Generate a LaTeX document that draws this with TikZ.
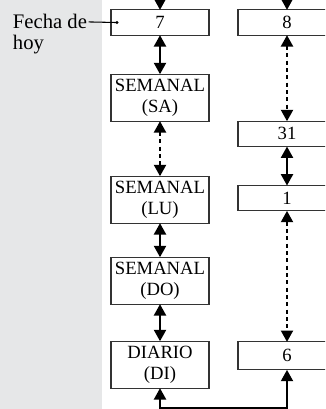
\documentclass[tikz,border=0pt]{standalone}
\usepackage{fontspec}
\setmainfont{Liberation Serif}
\usetikzlibrary{positioning, arrows.meta}

\definecolor{panelgray}{HTML}{E6E7E8}
\definecolor{boxline}{HTML}{333333}

\begin{document}
\begin{tikzpicture}[
        field/.style     = {rectangle, draw=boxline, line width=0.8pt, minimum width=73.5pt,
                            minimum height=19pt, inner sep=0pt, outer sep=0pt, align=center,
                            font=\fontsize{14}{15.75}\selectfont},
        tallfield/.style = {field, minimum height=35.25pt},
        lbl/.style       = {inner sep=0pt, font=\fontsize{15.5}{16}\selectfont},
        link/.style      = {draw, line width=1.5pt, {Triangle[width=9pt,length=8.5pt]}-{Triangle[width=9pt,length=8.5pt]}},
        skip/.style      = {link, dash pattern=on 3pt off 2.5pt},
        feed/.style      = {draw, line width=1.5pt, -{Triangle[width=9pt,length=8.5pt]}}
    ]
        \useasboundingbox (0,0) rectangle (243.75pt,-306.75pt);
        \clip (0,0) rectangle (243.75pt,-306.75pt);
        \fill [panelgray] (0,0) rectangle (76.5pt,-306.75pt);

        % columna izquierda
        \node [field] (hoy7) at (120pt,-16.9pt) {7};
        \node [tallfield, below=29.25pt of hoy7] (sa) {SEMANAL\\(SA)};
        \node [tallfield, below=41.25pt of sa]   (lu) {SEMANAL\\(LU)};
        \node [tallfield, below=25.5pt of lu]    (do) {SEMANAL\\(DO)};
        \node [tallfield, below=27.75pt of do]   (di) {DIARIO\\(DI)};

        % columna derecha
        \node [field] (d8) at (215.25pt,-16.9pt) {8};
        \node [field, below=64.5pt of d8]  (d31) {31};
        \node [field, below=29.25pt of d31] (d1) {1};
        \node [field, minimum height=21pt, below=98.25pt of d1] (d6) {6};

        % etiqueta
        \node [lbl, anchor=base west] (fecha) at (9.5pt,-21.75pt) {Fecha de};
        \node [lbl, anchor=base west] (hoy) at ([yshift=-15.75pt]fecha.base west) {hoy};
        \coordinate [right=4.5pt of hoy7.west] (dot);
        \fill (dot) circle (1.2pt);
        \draw [line width=0.8pt] ([xshift=1pt]fecha.east) -- (dot);

        % flechas
        \coordinate [above=7.5pt of hoy7] (in7);
        \coordinate [above=7.5pt of d8]   (in8);
        \path [feed] (in7) -- (hoy7);
        \path [feed] (in8) -- (d8);
        \path [link] (hoy7) -- (sa);
        \path [skip] (sa)   -- (lu);
        \path [link] (lu)   -- (do);
        \path [link] (do)   -- (di);
        \path [skip] (d8)   -- (d31);
        \path [link] (d31)  -- (d1);
        \path [skip] (d1)   -- (d6);
        \path [link] (di.south) -- ++(0,-15pt) -| (d6.south);
    \end{tikzpicture}
\end{document}
